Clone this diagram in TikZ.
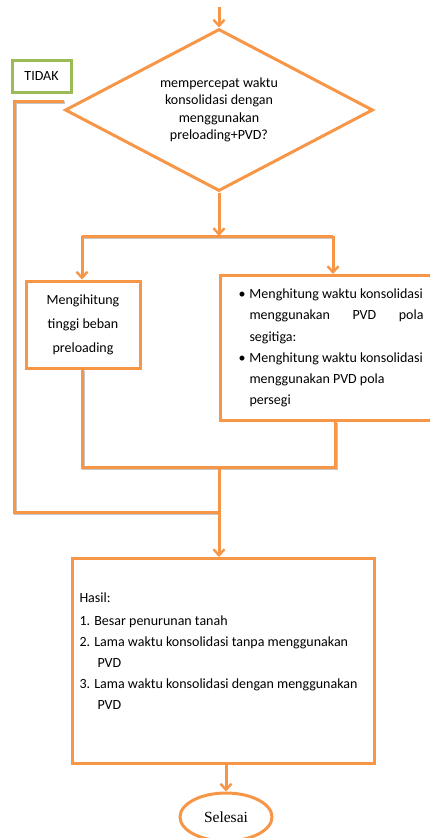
\documentclass[tikz,border=0pt]{standalone}
\usepackage{fontspec}
\setmainfont{Carlito}
\newfontfamily\timesf{Liberation Serif}
\usetikzlibrary{shapes.geometric,arrows.meta}
\definecolor{orng}{HTML}{F79646}
\definecolor{grn}{HTML}{9BBB59}
\begin{document}
\begin{tikzpicture}[x=1pt,y=-1pt,
  line width=3pt,
  shad/.style={preaction={draw=black!22,transform canvas={shift={(1pt,-1.2pt)}}}},
  conn/.style={draw=orng,line width=3pt,shad},
  arr/.style={draw=orng,line width=3pt,-{Straight Barb[length=6pt,width=11pt,line width=2.4pt]}},
  obox/.style={draw=orng,line width=3pt,fill=white,rectangle,inner sep=0pt,font=\fontsize{14}{17.5}\selectfont},
  gbox/.style={draw=grn,line width=3pt,fill=white,rectangle,inner sep=0pt,font=\fontsize{14}{17}\selectfont},
  dia/.style={draw=orng,line width=3pt,diamond,aspect=2,inner sep=0pt,minimum width=308pt,minimum height=162pt,align=center,font=\fontsize{14}{17.5}\selectfont},
  term/.style={draw=orng,line width=3pt,ellipse,inner sep=0pt,minimum width=92pt,minimum height=48pt,font=\timesf\fontsize{15.5}{18}\selectfont}
]
\useasboundingbox (0,0) rectangle (430,838);

\coordinate (start) at (219,7);
\node[dia] (q) at (219,110) {mempercepat waktu\\konsolidasi dengan\\menggunakan\\preloading+PVD?};
\draw[arr] (start) -- (q.north);

\node[gbox,minimum width=59pt,minimum height=32pt] (tidak) at (41.5,76) {TIDAK};

% split
\coordinate (split) at (219,236);
\coordinate (splitL) at (82,236);
\coordinate (splitR) at (333,236);
\draw[arr] (q.south) -- (split);
\draw[conn] (splitL) -- (splitR);

\node[obox,minimum width=114pt,minimum height=87pt,align=center,font=\fontsize{14}{24}\selectfont] (lb) at (83,324.5) {Mengihitung\\tinggi beban\\preloading};

\node[obox,minimum width=221pt,minimum height=145pt,align=left,anchor=north west,font=\fontsize{14}{21.3}\selectfont,inner xsep=13pt] (rb) at (219,274)
{\makebox[11pt][l]{\textbullet}Menghitung waktu konsolidasi\\
\hspace*{11pt}\makebox[174pt][s]{menggunakan PVD pola}\\
\hspace*{11pt}segitiga:\\
\makebox[11pt][l]{\textbullet}Menghitung waktu konsolidasi\\
\hspace*{11pt}menggunakan PVD pola\\
\hspace*{11pt}persegi\hspace*{110pt}};

\draw[arr] (splitL) -- (lb.north -| splitL);
\draw[arr] (splitR) -- (rb.north -| splitR);

% merge
\coordinate (mergeL) at (82,467);
\coordinate (mergeR) at (335,467);
\coordinate (merge) at (219,467);
\coordinate (join) at (219,512);
\draw[conn] (lb.south -| mergeL) -- (mergeL) -- (mergeR) -- (rb.south -| mergeR);

% feedback (TIDAK)
\coordinate (fb) at (64,101);
\coordinate (fbA) at (14,101);
\coordinate (fbB) at (14,512);
\draw[conn] (fb) -- (fbA) -- (fbB) -- (join);

\node[obox,anchor=north west,minimum width=302pt,minimum height=205pt,align=left] (res) at (71,557)
{\parbox[t][197pt][t]{288pt}{\fontsize{14}{21}\selectfont\vspace*{30pt}%
Hasil:\\[2pt]
1. Besar penurunan tanah\\
2. Lama waktu konsolidasi tanpa menggunakan\\
\hspace*{18pt}PVD\\
3. Lama waktu konsolidasi dengan menggunakan\\
\hspace*{18pt}PVD}};

\draw[arr] (merge) -- (res.north -| merge);

\node[term] (sel) at (226,817) {Selesai};
\draw[arr] (res.south -| sel.north) -- (sel.north);
\end{tikzpicture}
\end{document}
